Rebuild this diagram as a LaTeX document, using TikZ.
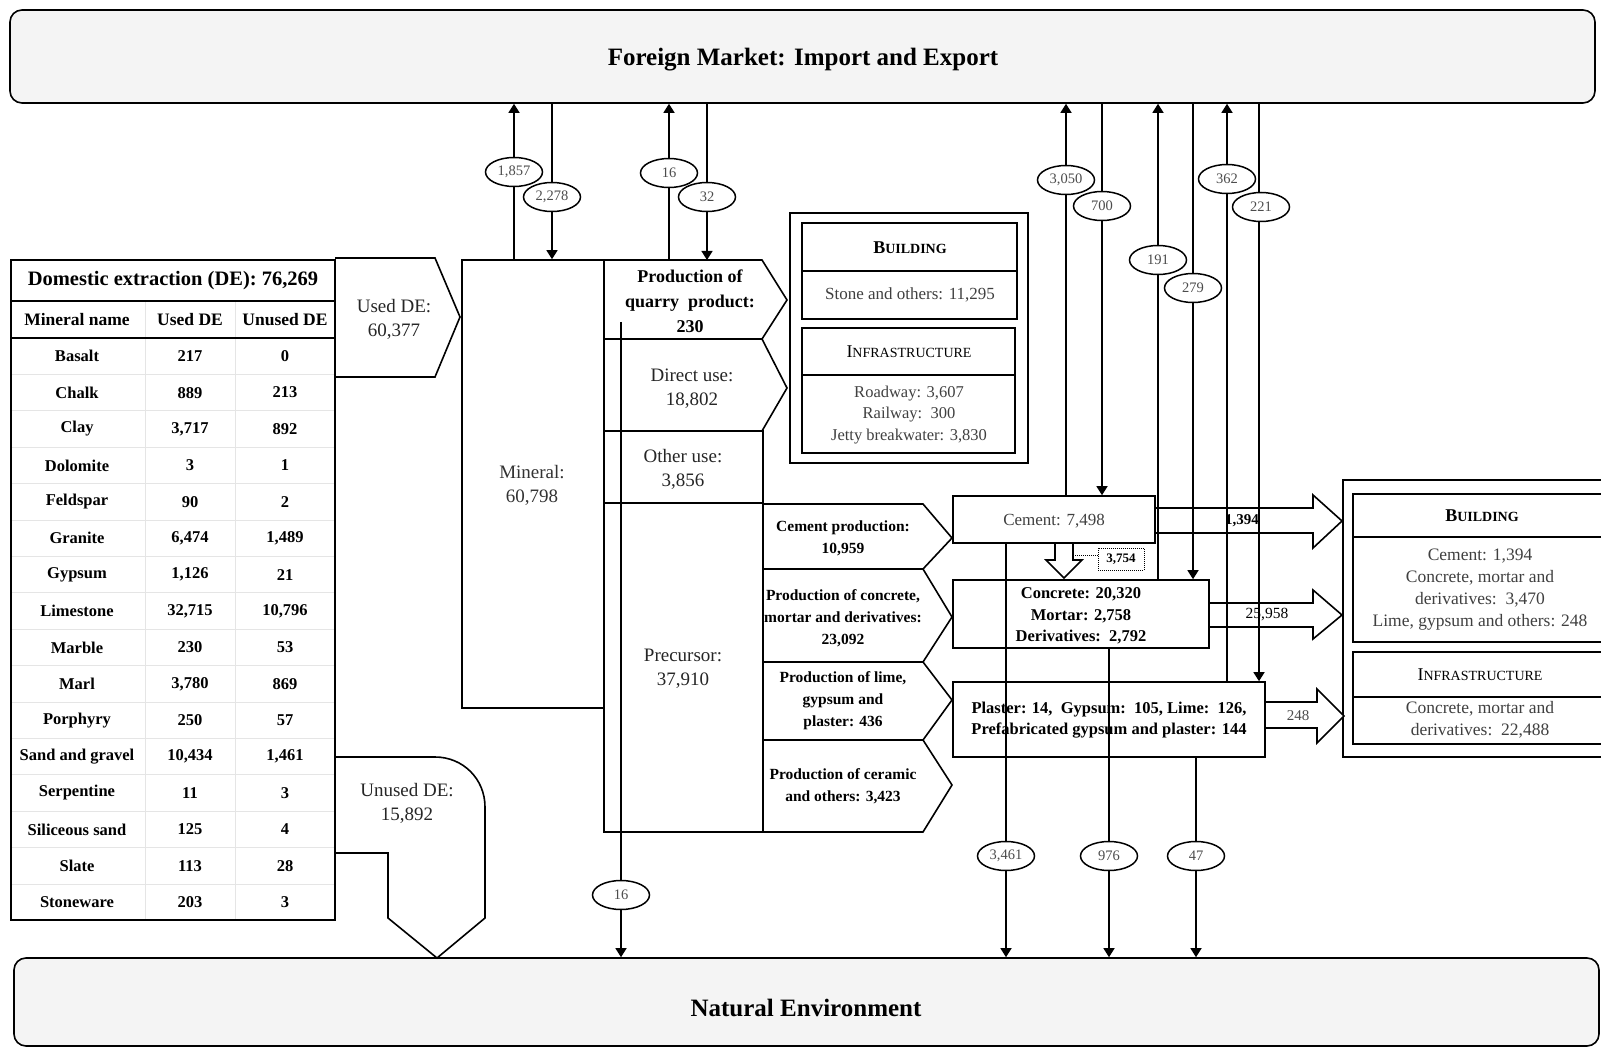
\documentclass[tikz,border=0pt]{standalone}
\usepackage{fontspec}
\setmainfont{Liberation Serif}
\usetikzlibrary{arrows.meta,shapes.geometric,fit}
\newcommand\fsz[2]{\fontsize{#1}{#2}\selectfont}
\newcommand\fakesc[2]{{\fsz{18}{18}#1}{\fsz{14}{14}#2}}
\definecolor{panel}{HTML}{F4F4F4}

\begin{document}
\begin{tikzpicture}[x=1pt,y=-1pt,
  >={Triangle[length=9pt,width=11pt]},
  frame/.style={draw, line width=1.6pt, inner sep=0pt},
  flow/.style={line width=1.4pt},
  val/.style={draw, ellipse, fill=white, line width=1.5pt, minimum width=57pt,
              minimum height=29pt, inner sep=0pt, font=\fsz{14.5}{14.5}, text=black!70},
  txt/.style={align=center, inner sep=0pt},
  regtxt/.style={txt, font=\fsz{19}{24}, text=black!85},
  prodtxt/.style={txt, font=\bfseries\fsz{15.5}{22}},
  bodytxt/.style={txt, font=\fsz{17}{22}, text=black!75},
  cell/.style={inner sep=0pt, font=\bfseries\fsz{16.5}{16.5}},
  headcell/.style={inner sep=0pt, font=\bfseries\fsz{17.5}{17.5}},
  edge/.style={line width=1.6pt},
  hollow/.style={draw, line width=1.6pt, fill=white}
]
\useasboundingbox (0,0) rectangle (1601,1048);
\clip (0,0) rectangle (1601,1048);
\fill[white] (0,0) rectangle (1601,1048);

% ---------- outer panels ----------
\node[fit={(10,10) (1595,103)}, frame, rounded corners=12pt, fill=panel] (fm) {};
\node[txt, font=\bfseries\fsz{25}{28}] (fmtext) at (803,60) {Foreign Market: Import and Export};
\node[fit={(14,958) (1599,1046)}, frame, rounded corners=12pt, fill=panel] (ne) {};
\node[txt, font=\bfseries\fsz{25}{28}] (netext) at (806,1008) {Natural Environment};

% ---------- domestic extraction table ----------
\foreach \k in {1,...,15}
  \draw[black!10, line width=0.8pt] (11,{338+36.4*\k}) -- (335,{338+36.4*\k});
\draw[black!10, line width=0.8pt] (145,301) -- (145,920) (235,301) -- (235,920);
\node[fit={(11,260) (335,920)}, frame] (table) {};
\draw[edge] (11,301) -- (335,301) (11,338) -- (335,338);
\node[txt, font=\bfseries\fsz{20.5}{22}] (detitle) at (173,281) {Domestic extraction (DE): 76,269};
\node[headcell] (hname) at (77,320) {Mineral name};
\node[headcell] (hused) at (190,320) {Used DE};
\node[headcell] (hunused) at (285,320) {Unused DE};
\foreach \nm/\ua/\ub [count=\i from 0] in {Basalt/217/0, Chalk/889/213,
    Clay/{3,717}/892, Dolomite/3/1, Feldspar/90/2, Granite/{6,474}/{1,489},
    Gypsum/{1,126}/21, Limestone/{32,715}/{10,796}, Marble/230/53,
    Marl/{3,780}/869, Porphyry/250/57, Sand and gravel/{10,434}/{1,461},
    Serpentine/11/3, Siliceous sand/125/4, Slate/113/28, Stoneware/203/3}{
  \node[cell] (mn\i) at (77,{338+36.4*(\i+0.5)}) {\nm};
  \node[cell] (mu\i) at (190,{338+36.4*(\i+0.5)}) {\ua};
  \node[cell] (mx\i) at (285,{338+36.4*(\i+0.5)}) {\ub};
}

% ---------- used / unused DE ----------
\draw[edge] (335,258) -- (435,258) -- (460,317) -- (435,377) -- (335,377);
\node[regtxt] (usedde) at (394,319) {Used DE:\\60,377};
\draw[edge] (335,757) -- (435,757) .. controls (463,757) and (485,779) .. (485,807)
  -- (485,918) -- (437,958) -- (388,918) -- (388,853) -- (335,853);
\node[regtxt] (unusedde) at (407,803) {Unused DE:\\15,892};

% ---------- mineral and its uses ----------
\node[fit={(462,260) (604,708)}, frame] (mineral) {};
\node[regtxt, text=black!80] (mineraltext) at (532,485) {Mineral:\\60,798};
\draw[edge] (604,260) -- (762,260) -- (787,300) -- (762,339) -- (604,339);
\node[txt, font=\bfseries\fsz{18}{25}] (quarry) at (690,301) {Production of\\quarry\ \ product:\\230};
\coordinate (quarrytop) at (683,260);
\coordinate (quarrydrop) at (621,322);
\draw[edge] (604,339) -- (762,339) -- (787,388) -- (762,431) -- (604,431);
\node[regtxt] (direct) at (692,389) {Direct use:\\18,802};
\node[fit={(604,431) (763,503)}, frame] (other) {};
\node[regtxt] (othertext) at (683,469) {Other use:\\3,856};
\node[fit={(604,503) (763,832)}, frame] (precursor) {};
\node[regtxt] (precursortext) at (683,669) {Precursor:\\37,910};

% precursor branches
\draw[edge] (763,504) -- (923,504) -- (952,538) -- (923,569) -- (763,569);
\draw[edge] (763,569) -- (923,569) -- (952,617) -- (923,662) -- (763,662);
\draw[edge] (763,662) -- (923,662) -- (952,700) -- (923,740) -- (763,740);
\draw[edge] (763,740) -- (923,740) -- (952,785) -- (923,832) -- (763,832);
\node[prodtxt] (pcement) at (843,538) {Cement production:\\10,959};
\node[prodtxt] (pconcrete) at (843,618) {Production of concrete,\\mortar and derivatives:\\23,092};
\node[prodtxt] (plime) at (843,701) {Production of lime,\\gypsum and\\plaster: 436};
\node[prodtxt] (pceramic) at (843,786) {Production of ceramic\\and others: 3,423};

% ---------- products ----------
\node[fit={(953,496) (1155,543)}, frame] (cement) {};
\node[txt, font=\fsz{17}{20}, text=black!75] (cementtext) at (1054,521) {Cement: 7,498};
\node[fit={(953,580) (1209,648)}, frame] (concrete) {};
\node[txt, font=\bfseries\fsz{16.5}{21.5}] (concretetext) at (1081,616)
  {Concrete: 20,320\\Mortar: 2,758\\Derivatives:\ \ 2,792};
\node[fit={(953,682) (1265,757)}, frame] (plaster) {};
\node[txt, font=\bfseries\fsz{16.5}{21}] (plastertext) at (1109,720)
  {Plaster: 14,\ \ Gypsum:\ \ 105, Lime:\ \ 126,\\Prefabricated gypsum and plaster: 144};

% cement feeding concrete
\draw[hollow] (1055,543) -- (1073,543) -- (1073,560) -- (1082,560) -- (1064,578)
  -- (1046,560) -- (1055,560) -- cycle;
\coordinate (hollowside) at (1073,555);
\node[draw, densely dotted, line width=1pt, minimum width=46pt, minimum height=22pt,
      inner sep=0pt, font=\bfseries\fsz{13}{13}] (d3754) at (1121,559) {3,754};
\draw[densely dotted, line width=1pt] (hollowside) -- (hollowside -| d3754.west);

% ---------- end uses ----------
\node[fit={(790,213) (1028,463)}, draw, line width=2.3pt, inner sep=0pt] (usesA) {};
\node[fit={(802,223) (1017,319)}, frame] (bldA) {};
\draw[edge] (802,271) -- (1017,271);
\node[txt, font=\bfseries] (bldAhead) at (910,248) {\fakesc{B}{UILDING}};
\node[bodytxt] (bldAbody) at (910,295) {Stone and others: 11,295};
\node[fit={(802,328) (1015,453)}, frame] (infA) {};
\draw[edge] (802,375) -- (1015,375);
\node[txt] (infAhead) at (909,352) {\fakesc{I}{NFRASTRUCTURE}};
\node[bodytxt, font=\fsz{16.5}{21.5}] (infAbody) at (909,415) {Roadway: 3,607\\Railway:\ \ 300\\Jetty breakwater: 3,830};

\node[fit={(1343,480) (1622,757)}, draw, line width=2.3pt, inner sep=0pt] (usesB) {};
\node[fit={(1353,494) (1610,642)}, frame] (bldB) {};
\draw[edge] (1353,537) -- (1610,537);
\node[txt, font=\bfseries] (bldBhead) at (1482,516) {\fakesc{B}{UILDING}};
\node[bodytxt, font=\fsz{17.5}{22}] (bldBbody) at (1480,590)
  {Cement: 1,394\\Concrete, mortar and\\derivatives:\ \ 3,470\\Lime, gypsum and others: 248};
\node[fit={(1353,652) (1610,744)}, frame] (infB) {};
\draw[edge] (1353,697) -- (1610,697);
\node[txt] (infBhead) at (1480,675) {\fakesc{I}{NFRASTRUCTURE}};
\node[bodytxt, font=\fsz{17.5}{22}] (infBbody) at (1480,720) {Concrete, mortar and\\derivatives:\ \ 22,488};

% hollow arrows into the end uses
\draw[hollow] (1155,508) -- (1313,508) -- (1313,495) -- (1342,521) -- (1313,548)
  -- (1313,533) -- (1155,533) -- cycle;
\draw[hollow] (1209,603) -- (1313,603) -- (1313,590) -- (1342,615) -- (1313,639)
  -- (1313,627) -- (1209,627) -- cycle;
\draw[hollow] (1265,702) -- (1317,702) -- (1317,689) -- (1344,716) -- (1317,743)
  -- (1317,728) -- (1265,728) -- cycle;
\node[txt, font=\bfseries\fsz{15}{15}] (a1394) at (1242,521) {1,394};
\node[txt, font=\fsz{15.5}{15}] (a25958) at (1267,615) {25,958};
\node[txt, font=\fsz{15}{15}, text=black!70] (a248) at (1298,716) {248};

% ---------- trade and environment flows ----------
\foreach \n/\x in {cA/514,cB/552,cC/669,cD/707,cE/1066,cF/1102,cG/1158,cH/1193,
                   cI/1227,cJ/1259,cL/1006,cM/1109,cN/1196}
  \coordinate (\n) at (\x,0);

\draw[flow,->] (mineral.north -| cA) -- (fm.south -| cA);
\draw[flow,->] (fm.south -| cB) -- (mineral.north -| cB);
\draw[flow,->] (quarrytop -| cC) -- (fm.south -| cC);
\draw[flow,->] (fm.south -| cD) -- (quarrytop -| cD);
\draw[flow,->] (cement.north -| cE) -- (fm.south -| cE);
\draw[flow,->] (fm.south -| cF) -- (cement.north -| cF);
\draw[flow,->] (concrete.north -| cG) -- (fm.south -| cG);
\draw[flow,->] (fm.south -| cH) -- (concrete.north -| cH);
\draw[flow,->] (plaster.north -| cI) -- (fm.south -| cI);
\draw[flow,->] (fm.south -| cJ) -- (plaster.north -| cJ);

\draw[flow,->] (quarrydrop) -- (ne.north -| quarrydrop);
\draw[flow,->] (cement.south -| cL) -- (ne.north -| cL);
\draw[flow,->] (concrete.south -| cM) -- (ne.north -| cM);
\draw[flow,->] (plaster.south -| cN) -- (ne.north -| cN);

\node[val] (v1857) at (514,172) {1,857};
\node[val] (v2278) at (552,197) {2,278};
\node[val] (v16a) at (669,173) {16};
\node[val] (v32) at (707,197) {32};
\node[val] (v3050) at (1066,180) {3,050};
\node[val] (v700) at (1102,206) {700};
\node[val] (v191) at (1158,260) {191};
\node[val] (v279) at (1193,288) {279};
\node[val] (v362) at (1227,179) {362};
\node[val] (v221) at (1261,207) {221};
\node[val] (v16b) at (621,895) {16};
\node[val] (v3461) at (1006,856) {3,461};
\node[val] (v976) at (1109,856) {976};
\node[val] (v47) at (1196,856) {47};
\end{tikzpicture}
\end{document}
